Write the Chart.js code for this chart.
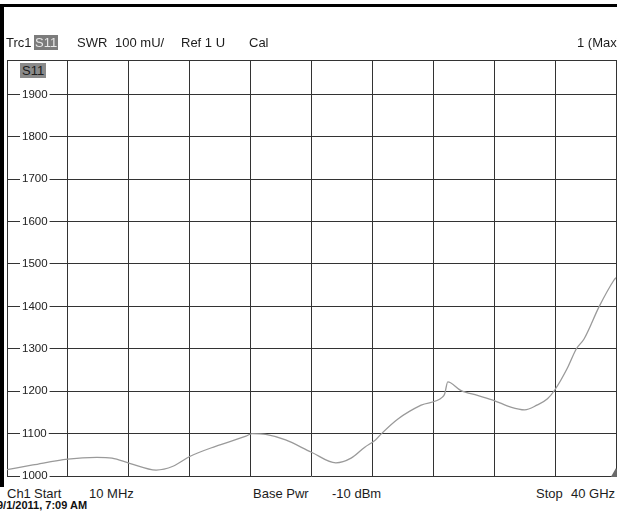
<!DOCTYPE html>
<html>
<head>
<meta charset="utf-8">
<script src="https://cdn.jsdelivr.net/npm/chart.js@4/dist/chart.umd.min.js"></script>
<style>
  html, body { margin: 0; padding: 0; background: #fff; }
  body { width: 617px; height: 527px; overflow: hidden; position: relative;
         font-family: "Liberation Sans", Arial, sans-serif; color: #1c1c1c; }
  #frame { position: absolute; left: 0; top: 4px; width: 700px; height: 483px;
           border-top: 3px solid #000; border-left: 4px solid #000; box-sizing: border-box; }
  #wrap { position: absolute; left: 0; top: 0; width: 622px; height: 482px; }
  .t { position: absolute; white-space: nowrap; font-size: 13px; line-height: 15px; }
  .badge { background: #7c7c7c; color: #e8e8e8; padding: 0 1px; }
  #s11 { position: absolute; left: 20px; top: 63px; height: 15px; line-height: 15px;
         font-size: 13px; background: #8a8a8a; color: #1c1c1c; padding: 0 2px; }
  #stamp { position: absolute; left: -3px; top: 499px; font-size: 11px; font-weight: bold;
           white-space: nowrap; color: #111; }
</style>
</head>
<body>
<div id="frame"></div>
<div id="wrap"><canvas id="c" width="622" height="482"></canvas></div>

<div class="t" style="left:6px; top:35px;">Trc1</div>
<div class="t badge" style="left:34px; top:35px;">S11</div>
<div class="t" style="left:77px; top:35px;">SWR</div>
<div class="t" style="left:115px; top:35px;">100 mU/</div>
<div class="t" style="left:181px; top:35px;">Ref 1 U</div>
<div class="t" style="left:249px; top:35px;">Cal</div>
<div class="t" style="left:577px; top:35px;">1 (Max)</div>
<div id="s11">S11</div>

<div class="t" style="left:7px; top:486px;">Ch1</div>
<div class="t" style="left:34px; top:486px;">Start</div>
<div class="t" style="left:89px; top:486px;">10 MHz</div>
<div class="t" style="left:253px; top:486px;">Base Pwr</div>
<div class="t" style="left:332px; top:486px;">-10 dBm</div>
<div class="t" style="left:536px; top:486px;">Stop</div>
<div class="t" style="left:571px; top:486px;">40 GHz</div>
<div id="stamp">9/1/2011, 7:09 AM</div>

<script>
// Sweep 10 MHz .. 40 GHz, S11 shown as SWR in mU (1000 mU = 1.0)
const freqGHz = [0, 1.7, 4.0, 5.9, 6.9, 8.05, 9.8, 10.9, 12.0, 13.7, 15.7, 16.1, 17.0, 18.3,
                 20.0, 21.6, 22.6, 23.5, 24.2, 24.6, 25.7, 27.2, 28.6, 28.75, 28.95, 29.8,
                 30.9, 32.0, 33.05, 34.0, 34.8, 35.5, 36.0, 36.8, 37.4, 37.9, 38.9, 39.85, 40.0];
const swrMilli = [1015, 1026, 1040, 1044, 1042, 1030, 1014, 1023, 1046, 1070, 1094, 1100, 1098, 1085,
                  1056, 1031, 1042, 1068, 1085, 1100, 1135, 1167, 1186, 1194, 1222, 1202,
                  1190, 1178, 1163, 1156, 1167, 1182, 1204, 1254, 1300, 1323, 1400, 1461, 1468];
const yTickValues = [1000, 1100, 1200, 1300, 1400, 1500, 1600, 1700, 1800, 1900];
const yTop = 1981;
const xDivisions = [0, 4, 8, 12, 16, 20, 24, 28, 32, 36, 40];
const markerPoint = [{ x: 40, y: 1005 }];

const trace = freqGHz.map((f, i) => ({ x: f, y: swrMilli[i] }));

new Chart(document.getElementById('c'), {
  type: 'line',
  data: {
    datasets: [
      {
        data: trace,
        borderColor: '#9a9a9a',
        borderWidth: 1.3,
        pointRadius: 0,
        cubicInterpolationMode: 'monotone',
        fill: false
      },
      {
        type: 'scatter',
        data: markerPoint,
        pointStyle: 'triangle',
        pointRadius: 6,
        backgroundColor: '#6a6a6a',
        borderWidth: 0,
        clip: false
      }
    ]
  },
  options: {
    responsive: false,
    animation: false,
    events: [],
    layout: { padding: { left: 7, top: 60, right: 2.5, bottom: 0.3 } },
    plugins: { legend: { display: false }, tooltip: { enabled: false } },
    scales: {
      x: {
        type: 'linear',
        min: 0, max: 40,
        afterBuildTicks: axis => { axis.ticks = xDivisions.map(v => ({ value: v })); },
        afterFit: axis => { axis.height = 0; axis.paddingLeft = 0; axis.paddingRight = 0; },
        ticks: { display: false },
        grid: { color: '#333', lineWidth: 1, drawTicks: false },
        border: { display: false }
      },
      y: {
        type: 'linear',
        min: 1000, max: yTop,
        afterBuildTicks: axis => { axis.ticks = yTickValues.concat([yTop]).map(v => ({ value: v })); },
        afterFit: axis => { axis.width = 0; axis.paddingTop = 0; axis.paddingBottom = 0; },
        ticks: {
          mirror: true,
          padding: 15,
          color: '#222',
          font: { family: 'Liberation Sans', size: 11.5 },
          callback: v => (yTickValues.includes(v) ? String(v) : ''),
          showLabelBackdrop: ctx => yTickValues.includes(ctx.tick.value),
          backdropColor: '#fff',
          backdropPadding: { left: 2, right: 2, top: 0, bottom: 0 }
        },
        grid: { color: '#333', lineWidth: 1, drawTicks: false },
        border: { display: false }
      }
    }
  }
});
</script>
</body>
</html>
